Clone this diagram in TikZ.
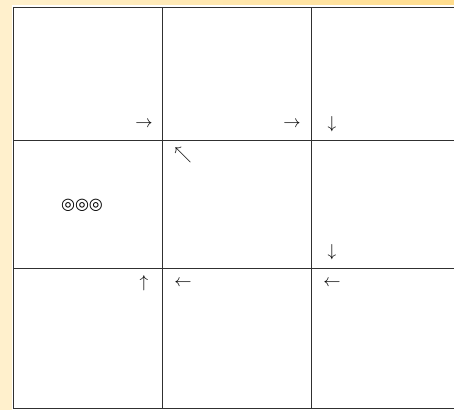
\documentclass[tikz,border=0pt]{standalone}
\usepackage{fontspec}
\newfontfamily\symfont{DejaVu Sans}
\usetikzlibrary{positioning}

\definecolor{paper}{HTML}{FFF0CC}
\definecolor{paperdark}{HTML}{FFDC8C}
\definecolor{rulegray}{HTML}{303030}

\tikzset{
  gridline/.style={rulegray, line width=1.3pt},
  arrowmark/.style={inner sep=0pt, font=\fontsize{19}{19}\selectfont},
}

\begin{document}
\begin{tikzpicture}[x=1pt, y=-1pt]

\useasboundingbox (0,0) rectangle (454,410);
\fill[paper] (0,0) rectangle (454,410);
\shade[left color=paper, right color=paperdark] (12,0) rectangle (454,5);
\fill[white] (12,5) rectangle (454,410);

% board
\draw[gridline] (454,7.5) -- (13.5,7.5) -- (13.5,408.5) -- (454,408.5);
\draw[gridline] (162.5,7.5) -- (162.5,408.5);
\draw[gridline] (311.5,7.5) -- (311.5,408.5);
\draw[gridline] (13.5,140.5) -- (454,140.5);
\draw[gridline] (13.5,268.5) -- (454,268.5);

% arrows in the cells
\node[arrowmark] (r1) at (144,124) {$\rightarrow$};
\node[arrowmark] (r2) at (292,124) {$\rightarrow$};
\node[arrowmark] (d1) at (332,124) {$\downarrow$};
\node[arrowmark] (ul) at (183,155) {$\nwarrow$};
\node[arrowmark] (d2) at (332,252) {$\downarrow$};
\node[arrowmark] (u1) at (144,283) {$\uparrow$};
\node[arrowmark] (l1) at (183,283) {$\leftarrow$};
\node[arrowmark] (l2) at (332,283) {$\leftarrow$};

\node[inner sep=0pt, font=\symfont\fontsize{16}{16}\selectfont] (rings) at (82,205) {◎◎◎};

\end{tikzpicture}
\end{document}
